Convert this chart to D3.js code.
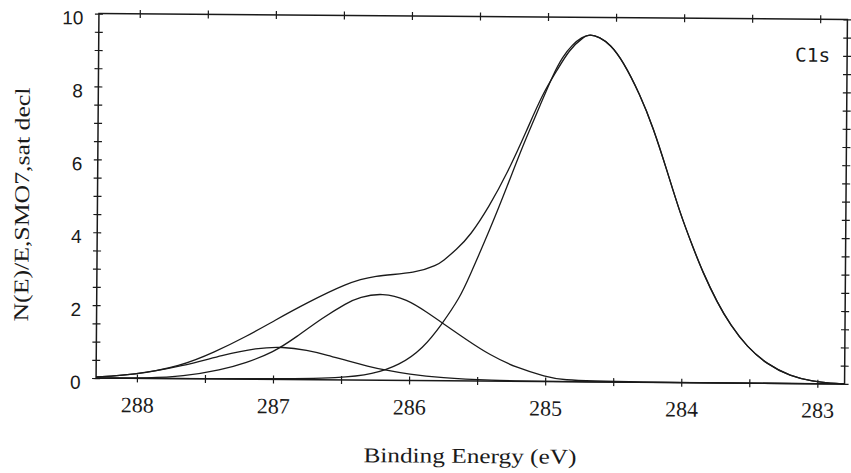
<!DOCTYPE html>
<html><head><meta charset="utf-8">
<script src="https://cdn.jsdelivr.net/npm/d3@7"></script>
<style>html,body{margin:0;padding:0;background:#fff;} svg{display:block}</style>
</head><body>
<svg id="chart" width="851" height="473"></svg>
<script>
// ---- data ----
const envelopeE = [288.3, 288.03, 287.68, 287.43, 287.2, 286.99, 286.76, 286.46, 286.27, 285.95, 285.8, 285.76, 285.66, 285.56, 285.42, 285.29, 285.15, 285.04, 284.93, 284.84, 284.74, 284.69, 284.62, 284.54, 284.45, 284.32, 284.22, 284.12, 284.02, 283.92, 283.85, 283.74, 283.64, 283.52, 283.37, 283.2, 283.03, 282.9, 282.8];
const envelopeY = [0.03, 0.09, 0.34, 0.74, 1.17, 1.62, 2.10, 2.66, 2.87, 2.95, 3.18, 3.28, 3.60, 3.98, 4.80, 5.71, 6.88, 7.86, 8.55, 9.12, 9.46, 9.54, 9.46, 9.26, 8.83, 7.90, 6.98, 5.85, 4.66, 3.70, 3.05, 2.20, 1.58, 1.00, 0.52, 0.20, 0.06, 0.01, 0];

const peak1E = [288.3, 287.0, 286.5, 286.27, 286.07, 285.9, 285.76, 285.63, 285.57, 285.41, 285.29, 285.18, 285.05, 284.96, 284.89, 284.82, 284.75, 284.69, 284.62, 284.54, 284.45, 284.32, 284.22, 284.12, 284.02, 283.92, 283.85, 283.74, 283.64, 283.52, 283.37, 283.2, 283.03, 282.9, 282.8];
const peak1Y = [0, 0.01, 0.05, 0.16, 0.42, 0.88, 1.56, 2.30, 2.80, 4.20, 5.35, 6.45, 7.60, 8.42, 8.92, 9.25, 9.46, 9.54, 9.46, 9.26, 8.83, 7.90, 6.98, 5.85, 4.66, 3.70, 3.05, 2.20, 1.58, 1.00, 0.52, 0.20, 0.06, 0.01, 0];

const peak2E = [288.3, 287.9, 287.67, 287.38, 287.2, 287.0, 286.83, 286.64, 286.46, 286.37, 286.2, 286.02, 285.87, 285.76, 285.58, 285.41, 285.21, 284.99, 284.89, 284.5, 282.8];
const peak2Y = [0, 0.01, 0.06, 0.25, 0.45, 0.74, 1.17, 1.70, 2.12, 2.28, 2.40, 2.23, 1.87, 1.59, 1.13, 0.72, 0.37, 0.13, 0.05, 0, 0];

const peak3E = [288.3, 288.03, 287.66, 287.37, 287.12, 286.93, 286.75, 286.6, 286.45, 286.3, 286.19, 286.0, 285.77, 285.4, 285.0, 282.8];
const peak3Y = [0.03, 0.09, 0.35, 0.66, 0.86, 0.90, 0.81, 0.68, 0.52, 0.38, 0.29, 0.17, 0.08, 0.02, 0, 0];

const xTickLabels = [288, 287, 286, 285, 284, 283];
const yTickLabels = [0, 2, 4, 6, 8, 10];
const xTitle = "Binding Energy (eV)";
const yTitle = "N(E)/E,SMO7,sat decl";
const regionLabel = "C1s";

// ---- layout ----
const M = {left: 97.5, right: 846, top: 16.5, bottom: 381};
const x = d3.scaleLinear().domain([288.3, 282.8]).range([M.left, M.right]);
const y = d3.scaleLinear().domain([0, 10]).range([M.bottom, M.top]);
const ink = "#1a1a1a";

const svg = d3.select("#chart");
svg.append("rect").attr("width", 851).attr("height", 473).attr("fill", "#fff");
const g = svg.append("g")
  .attr("transform", `rotate(0.45, ${(M.left + M.right) / 2}, ${(M.top + M.bottom) / 2})`);

// ticks every 0.5 on all sides, crossing the frame
const xMinor = d3.range(283, 288.01, 0.5);
const yMinor = d3.range(0, 10.01, 0.5);
function crossTicks(axisFn, scale, vals, tx, ty) {
  [4, -4].forEach(s => {
    const a = axisFn(scale).tickValues(vals).tickSize(s).tickSizeOuter(0).tickFormat("");
    const sel = g.append("g").attr("transform", `translate(${tx},${ty})`).call(a);
    sel.select(".domain").remove();
    sel.selectAll("line").attr("stroke", ink).attr("stroke-width", 1.2);
  });
}
crossTicks(d3.axisBottom, x, xMinor, 0, M.bottom);
crossTicks(d3.axisTop, x, xMinor, 0, M.top);
crossTicks(d3.axisLeft, y, yMinor, M.left, 0);
crossTicks(d3.axisRight, y, yMinor, M.right, 0);

// frame
g.append("rect").attr("x", M.left).attr("y", M.top)
  .attr("width", M.right - M.left).attr("height", M.bottom - M.top)
  .attr("fill", "none").attr("stroke", ink).attr("stroke-width", 1.5);

// tick labels
const xl = g.append("g").attr("transform", `translate(0,${M.bottom})`)
  .call(d3.axisBottom(x).tickValues(xTickLabels).tickSize(0).tickPadding(0).tickFormat(d3.format("d")));
xl.select(".domain").remove();
xl.selectAll("text").attr("y", 34).attr("dy", null)
  .attr("font-family", "'Liberation Serif', serif").attr("font-size", 22).attr("fill", ink);

const yl = g.append("g").attr("transform", `translate(${M.left},0)`)
  .call(d3.axisLeft(y).tickValues(yTickLabels).tickSize(0).tickPadding(15.5).tickFormat(d3.format("d")));
yl.select(".domain").remove();
yl.selectAll("text").attr("dy", 10.5)
  .attr("font-family", "'Liberation Sans', Arial, sans-serif").attr("font-size", 19).attr("fill", ink);

// curves
const line = d3.line().x(d => x(d[0])).y(d => y(d[1])).curve(d3.curveBasis);
const series = [
  d3.zip(envelopeE, envelopeY),
  d3.zip(peak1E, peak1Y),
  d3.zip(peak2E, peak2Y),
  d3.zip(peak3E, peak3Y)
];
g.append("g").selectAll("path").data(series).join("path")
  .attr("d", line).attr("fill", "none").attr("stroke", ink)
  .attr("stroke-width", 1.3).attr("stroke-linejoin", "round");

// titles
g.append("text").attr("x", 472).attr("y", 463).attr("text-anchor", "middle")
  .attr("font-family", "'Liberation Serif', serif").attr("font-size", 21)
  .attr("textLength", 213).attr("lengthAdjust", "spacingAndGlyphs")
  .attr("fill", ink).text(xTitle);

g.append("text").attr("transform", "translate(29,208) rotate(-90)")
  .attr("text-anchor", "middle")
  .attr("font-family", "'Liberation Serif', serif").attr("font-size", 21)
  .attr("textLength", 234).attr("lengthAdjust", "spacingAndGlyphs")
  .attr("fill", ink).text(yTitle);

g.append("text").attr("x", 794).attr("y", 59)
  .attr("font-family", "'DejaVu Sans Mono', monospace").attr("font-size", 19)
  .attr("textLength", 35).attr("lengthAdjust", "spacingAndGlyphs")
  .attr("fill", ink).text(regionLabel);
</script>
</body></html>
